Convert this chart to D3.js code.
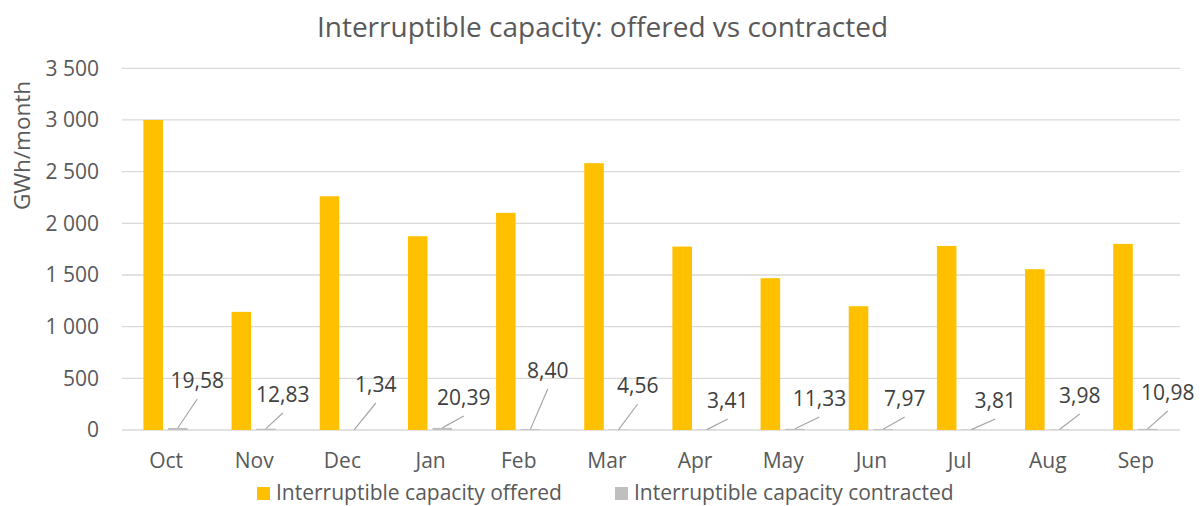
<!DOCTYPE html>
<html>
<head>
<meta charset="utf-8">
<script src="https://cdn.jsdelivr.net/npm/d3@7"></script>
<style>
  html, body { margin: 0; padding: 0; background: #fff; }
  svg { display: block; font-family: "Open Sans", "Noto Sans", sans-serif; }
</style>
</head>
<body>
<svg id="chart" width="1203" height="506"></svg>
<script>
// ---- data ----
const months = ["Oct", "Nov", "Dec", "Jan", "Feb", "Mar", "Apr", "May", "Jun", "Jul", "Aug", "Sep"];
const offered = [3000, 1143, 2262, 1875, 2101, 2582, 1775, 1469, 1198, 1781, 1556, 1801];
const contracted = [19.58, 12.83, 1.34, 20.39, 8.40, 4.56, 3.41, 11.33, 7.97, 3.81, 3.98, 10.98];
const contractedLabels = ["19,58", "12,83", "1,34", "20,39", "8,40", "4,56", "3,41", "11,33", "7,97", "3,81", "3,98", "10,98"];
const yTicks = [0, 500, 1000, 1500, 2000, 2500, 3000, 3500];
const seriesNames = ["Interruptible capacity offered", "Interruptible capacity contracted"];

// ---- layout (manually placed data labels, offsets from bar top in px) ----
const labelDx = [19.5, 16.8, 21.7, 21.5, 17.3, 19.1, 21, 24.5, 21.6, 24, 20.3, 20.1];
const labelDy = [42, 28, 38, 25, 52, 37, 22, 24, 24, 22, 27, 30];

const colors = { offered: "#FFC000", contracted: "#BFBFBF" };
const W = 1203, H = 506;
const plot = { left: 122, right: 1180, top: 68.3, bottom: 430 };

const svg = d3.select("#chart");

const x = d3.scaleBand().domain(months).range([plot.left, plot.right]).paddingInner(0).paddingOuter(0);
const y = d3.scaleLinear().domain([0, 3500]).range([plot.bottom, plot.top]);

const step = x.step();
const barW = step * 0.222;
const off1 = step * 0.2427;              // offered bar left offset within band
const off2 = off1 + barW + step * 0.057; // contracted bar left offset

// gridlines
svg.append("g")
  .selectAll("line")
  .data(yTicks)
  .join("line")
  .attr("x1", plot.left).attr("x2", plot.right)
  .attr("y1", d => y(d)).attr("y2", d => y(d))
  .attr("stroke", "#d9d9d9").attr("stroke-width", 1.3);

// y axis labels
const yAxis = d3.axisLeft(y).tickValues(yTicks)
  .tickFormat(d => d3.format(",")(d).replace(/,/g, " "))
  .tickSize(0).tickPadding(23);
const yg = svg.append("g").attr("transform", `translate(${plot.left},0)`).call(yAxis);
yg.select(".domain").remove();
yg.selectAll("text").attr("fill", "#595959").style("font-size", "21px").style("font-family", "'Open Sans', sans-serif");

// x axis labels
const xAxis = d3.axisBottom(x).tickSize(0).tickPadding(0);
const xg = svg.append("g").attr("transform", `translate(0,${plot.bottom})`).call(xAxis);
xg.select(".domain").remove();
xg.selectAll("text").attr("fill", "#595959").style("font-size", "21px")
  .style("font-family", "'Open Sans', sans-serif").attr("dy", null).attr("y", 38);

// offered bars
svg.append("g").selectAll("rect")
  .data(offered)
  .join("rect")
  .attr("x", (d, i) => x(months[i]) + off1)
  .attr("width", barW)
  .attr("y", d => y(d))
  .attr("height", d => y(0) - y(d))
  .attr("fill", colors.offered);

// contracted bars
svg.append("g").selectAll("rect")
  .data(contracted)
  .join("rect")
  .attr("x", (d, i) => x(months[i]) + off2)
  .attr("width", barW)
  .attr("y", d => y(d))
  .attr("height", d => Math.max(y(0) - y(d), 0))
  .attr("fill", colors.contracted);

// leader lines + labels
const lab = svg.append("g");
contracted.forEach((d, i) => {
  const cx = x(months[i]) + off2 + barW / 2;
  const cy = y(d);
  const lx = cx + labelDx[i];
  const ly = y(0) - labelDy[i];
  lab.append("line")
    .attr("x1", cx).attr("y1", cy)
    .attr("x2", lx).attr("y2", ly + 11)
    .attr("stroke", "#a6a6a6").attr("stroke-width", 1.2);
  lab.append("text")
    .attr("x", lx).attr("y", ly)
    .attr("text-anchor", "middle")
    .attr("fill", "#404040")
    .style("font-size", "21px")
    .text(contractedLabels[i]);
});

// title
svg.append("text")
  .attr("x", W / 2 + 1).attr("y", 37)
  .attr("text-anchor", "middle")
  .attr("fill", "#595959")
  .style("font-size", "28px")
  .text("Interruptible capacity: offered vs contracted");

// y-axis title
svg.append("text")
  .attr("transform", `translate(30,${(78 + 213) / 2}) rotate(-90)`)
  .attr("text-anchor", "middle")
  .attr("fill", "#595959")
  .style("font-size", "22.5px")
  .text("GWh/month");

// legend
const legend = svg.append("g");
const legendX = [257, 615];
[colors.offered, colors.contracted].forEach((c, i) => {
  legend.append("rect")
    .attr("x", legendX[i]).attr("y", 487)
    .attr("width", 13).attr("height", 13)
    .attr("fill", c);
  legend.append("text")
    .attr("x", legendX[i] + 19).attr("y", 500)
    .attr("fill", "#595959")
    .style("font-size", "21px")
    .text(seriesNames[i]);
});
</script>
</body>
</html>
